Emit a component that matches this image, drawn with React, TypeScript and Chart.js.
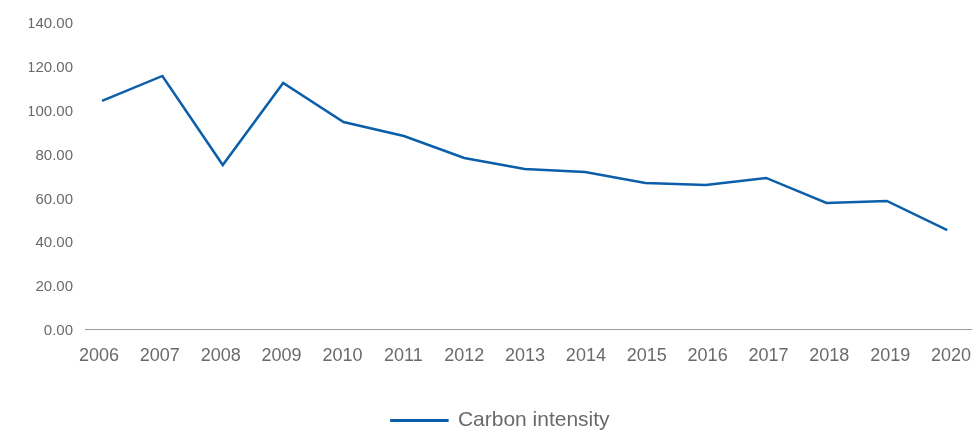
import React, { useEffect, useRef } from "react";
import { Chart, registerables } from "chart.js";

Chart.register(...registerables);

const years = [2006, 2007, 2008, 2009, 2010, 2011, 2012, 2013, 2014, 2015, 2016, 2017, 2018, 2019, 2020];
const carbonIntensity = [104.0, 115.4, 74.8, 112.2, 94.4, 88.0, 78.0, 73.0, 71.6, 66.6, 65.7, 68.9, 57.5, 58.4, 45.1];
const yTicks = [0, 20, 40, 60, 80, 100, 120, 140];
const seriesLabel = "Carbon intensity";

const BLUE = "#0b5ea9";
const GREY = "#6a6a6a";
const FONT = "'Liberation Sans', Arial, sans-serif";

export default function App() {
  const ref = useRef<HTMLCanvasElement | null>(null);

  useEffect(() => {
    if (!ref.current) return;
    const chart = new Chart(ref.current, {
      type: "line",
      data: {
        datasets: [
          {
            label: seriesLabel,
            data: years.map((y, i) => ({ x: y, y: carbonIntensity[i] })),
            borderColor: BLUE,
            backgroundColor: BLUE,
            borderWidth: 2.5,
            pointRadius: 0,
            tension: 0,
            xAxisID: "x",
          },
        ],
      },
      options: {
        animation: false,
        responsive: true,
        maintainAspectRatio: false,
        layout: { padding: { top: 22, right: 0, left: 29, bottom: -11 } },
        scales: {
          x: {
            type: "linear",
            position: "bottom",
            weight: 0,
            min: 2005.718,
            max: 2020.41,
            grid: { display: false, drawTicks: false },
            border: { display: true, color: "#9a9a9a", width: 1 },
            afterBuildTicks: (scale: any) => {
              scale.ticks = years.map((v) => ({ value: v }));
            },
            afterFit: (scale: any) => {
              scale.height = 0;
              scale.paddingLeft = 0;
              scale.paddingRight = 0;
            },
            ticks: { display: false },
          },
          xLabels: {
            type: "linear",
            position: "bottom",
            weight: 1,
            min: 2005.77,
            max: 2020.344,
            grid: { display: false, drawTicks: false },
            border: { display: false },
            afterBuildTicks: (scale: any) => {
              scale.ticks = years.map((v) => ({ value: v }));
            },
            afterFit: (scale: any) => {
              scale.height = 81;
              scale.paddingLeft = 0;
              scale.paddingRight = 0;
            },
            ticks: {
              autoSkip: false,
              maxRotation: 0,
              padding: 16,
              color: GREY,
              font: { family: FONT, size: 18 },
              callback: (v: any) => String(v),
            },
          },
          y: {
            min: 0,
            max: 140,
            grid: { display: false, drawTicks: false },
            border: { display: false },
            afterBuildTicks: (scale: any) => {
              scale.ticks = yTicks.map((v) => ({ value: v }));
            },
            afterFit: (scale: any) => {
              scale.width = 56;
              scale.paddingTop = 0;
              scale.paddingBottom = 0;
            },
            ticks: {
              padding: 12,
              labelOffset: 2,
              color: GREY,
              font: { family: FONT, size: 15 },
              callback: (v: any) => Number(v).toFixed(2),
            },
          },
        },
        plugins: {
          legend: {
            position: "bottom",
            labels: {
              boxWidth: 56,
              boxHeight: 0.5,
              color: GREY,
              padding: 0,
              font: { family: FONT, size: 21 },
            },
          },
          tooltip: { enabled: false },
        },
      },
    });
    return () => chart.destroy();
  }, []);

  return (
    <div style={{ position: "absolute", left: 0, top: 0, width: 972, height: 430 }}>
      <canvas ref={ref} />
    </div>
  );
}
